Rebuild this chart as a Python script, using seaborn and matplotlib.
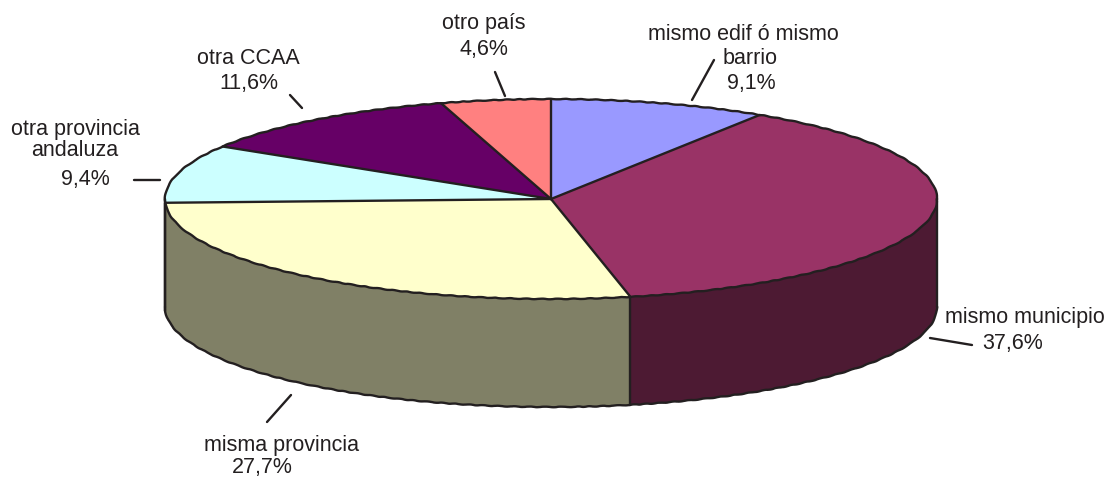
import numpy as np
import seaborn as sns
import matplotlib
matplotlib.use("Agg")
import matplotlib.pyplot as plt
from matplotlib.lines import Line2D

categories = ["mismo edif ó mismo\nbarrio", "mismo municipio", "misma provincia",
              "otra provincia\nandaluza", "otra CCAA", "otro país"]
values = [9.1, 37.6, 27.7, 9.4, 11.6, 4.6]
value_labels = ["9,1%", "37,6%", "27,7%", "9,4%", "11,6%", "4,6%"]
top_colors = ["#9999FF", "#993366", "#FFFFCC", "#CCFFFF", "#660066", "#FF8080"]
side_colors = ["#4D4D80", "#4D1A33", "#808066", "#668080", "#330033", "#804040"]

W, H = 1109, 478
CX, CY, RX, RY, DEPTH = 551, 199, 386, 100, 108
LW = 1.7
INK = "#231f20"
SKETCH = (0.3, 16, 2)

sns.set_theme(style="white")
plt.rcParams["font.family"] = ["Liberation Sans", "DejaVu Sans"]
fig = plt.figure(figsize=(W / 100, H / 100), dpi=100, facecolor="white")
ax = fig.add_axes([0, 0, 1, 1])

ax.pie(values, colors=top_colors, startangle=90, counterclock=False, normalize=True,
       wedgeprops=dict(linewidth=0, edgecolor="none"))
ax.set_aspect("auto")
ax.set_xlim(-CX / RX, (W - CX) / RX)
ax.set_ylim((CY - H) / RY, CY / RY)

# side wall of the visible (front) half, built from the slice angles
depth = DEPTH / RY
edges = 90 - 360 * np.concatenate([[0], np.cumsum(values)]) / np.sum(values)
for a, b, c in zip(edges[:-1], edges[1:], side_colors):
    lo, hi = max(min(a, b), -180), min(max(a, b), 0)
    if lo >= hi:
        lo, hi = max(min(a, b) + 360, -180), min(max(a, b) + 360, 0)
    if lo >= hi:
        continue
    t = np.radians(np.linspace(lo, hi, 120))
    x, y = np.cos(t), np.sin(t)
    ax.fill(np.r_[x, x[::-1]], np.r_[y, y[::-1] - depth], facecolor=c, edgecolor="none", zorder=0.5)

# rim of the top and of the wall, slightly rough as in the source
t = np.radians(np.linspace(0, 360, 720))
rim, = ax.plot(np.cos(t), np.sin(t), color=INK, lw=LW, zorder=3)
rim.set_sketch_params(*SKETCH)
t = np.radians(np.linspace(-180, 0, 360))
low, = ax.plot(np.cos(t), np.sin(t) - depth, color=INK, lw=LW, zorder=3)
low.set_sketch_params(*SKETCH)
for side in (-1, 1):
    ax.plot([side, side], [0, -depth], color=INK, lw=LW, zorder=2)

# slice boundaries on the top and on the wall
for e in edges[:-1]:
    ca, sa = np.cos(np.radians(e)), np.sin(np.radians(e))
    ax.plot([0, ca], [0, sa], color=INK, lw=LW, zorder=3)
    if sa < 0:
        ax.plot([ca, ca], [sa, sa - depth], color=INK, lw=LW, zorder=3)


def fx(px):
    return px / W


def fy(py):
    return 1 - py / H


texts = [
    (743, 34, "mismo edif ó mismo"), (750, 59, "barrio"), (751, 84, "9,1%"),
    (1025, 317, "mismo municipio"), (1013, 343, "37,6%"),
    (281, 445, "misma provincia"), (262, 468, "27,7%"),
    (75, 130, "otra provincia"), (75, 151, "andaluza"), (85, 179, "9,4%"),
    (248, 58, "otra CCAA"), (249, 84, "11,6%"),
    (484, 24, "otro país"), (484, 49, "4,6%"),
]
for x, y, s in texts:
    fig.text(fx(x), fy(y), s, ha="center", va="center", fontsize=15.5, color=INK)

leaders = [((714, 60), (692, 100)), ((930, 338), (972, 345)), ((291, 395), (267, 422)),
           ((134, 180), (160, 180)), ((290, 95), (302, 108)), ((495, 72), (505, 96))]
for (x0, y0), (x1, y1) in leaders:
    fig.add_artist(Line2D([fx(x0), fx(x1)], [fy(y0), fy(y1)], color=INK, linewidth=LW))

fig.savefig("out.png", dpi=100)
